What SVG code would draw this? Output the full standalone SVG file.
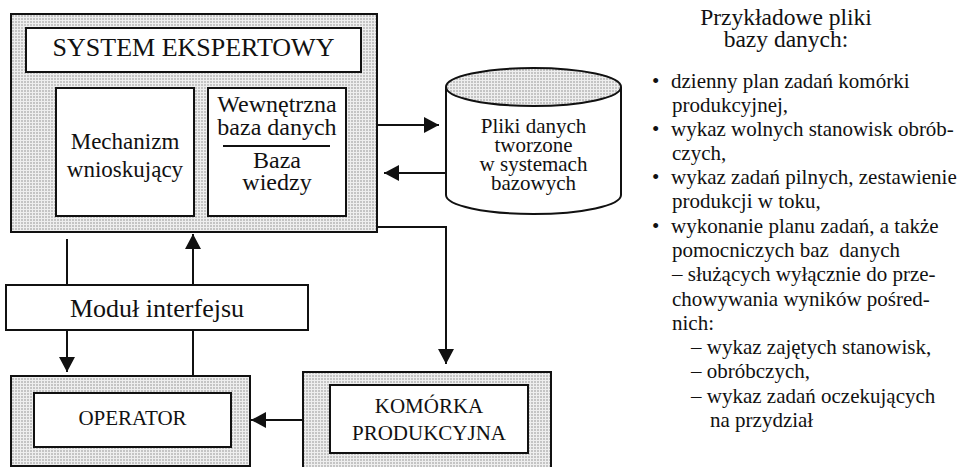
<svg xmlns="http://www.w3.org/2000/svg" width="963" height="467" viewBox="0 0 963 467">
  <style>
    text { font-family: "Liberation Serif", "Times New Roman", serif; fill: #111; }
    .box { fill: #fff; stroke: #111; stroke-width: 2; }
    .shade { fill: url(#stipple); stroke: #111; stroke-width: 2; }
    .wire { fill: none; stroke: #111; stroke-width: 2; }
    .c { text-anchor: middle; }
    .list { font-size: 21px; }
  </style>
  <defs>
    <pattern id="stipple" width="3" height="3" patternUnits="userSpaceOnUse">
      <rect width="3" height="3" fill="#eeeeee"/>
      <rect x="0" y="0" width="2" height="2" fill="#c4c4c4"/>
    </pattern>
    <marker id="head" viewBox="0 0 15 16" refX="15" refY="8" markerWidth="15" markerHeight="16" markerUnits="userSpaceOnUse" orient="auto">
      <path d="M0,0 L15,8 L0,16 Z" fill="#111"/>
    </marker>
  </defs>

  <!-- expert system block -->
  <g id="system-ekspertowy">
    <rect class="shade" x="11" y="14" width="366" height="218"/>
    <rect class="box" x="26" y="28" width="335" height="44"/>
    <text class="c" x="193.5" y="56" font-size="26">SYSTEM EKSPERTOWY</text>
  </g>

  <g id="mechanizm">
    <rect class="box" x="56" y="88" width="138" height="128"/>
    <text class="c" x="125" y="149" font-size="23">Mechanizm</text>
    <text class="c" x="125" y="177" font-size="23">wnioskujący</text>
  </g>

  <g id="baza-wiedzy">
    <rect class="box" x="208" y="88" width="138" height="128"/>
    <text class="c" x="277" y="112" font-size="24">Wewnętrzna</text>
    <text class="c" x="277" y="135" font-size="24">baza danych</text>
    <line x1="223" y1="146" x2="330" y2="146" stroke="#111" stroke-width="2"/>
    <text class="c" x="277" y="168" font-size="24">Baza</text>
    <text class="c" x="277" y="190" font-size="24">wiedzy</text>
  </g>

  <!-- database cylinder -->
  <g id="pliki-danych">
    <path class="box" d="M446,87 L446,195 A87.5,19 0 0 0 621,195 L621,87"/>
    <ellipse class="shade" cx="533.5" cy="87" rx="87.5" ry="19"/>
    <text class="c" x="533.5" y="133" font-size="21">Pliki danych</text>
    <text class="c" x="533.5" y="152" font-size="21">tworzone</text>
    <text class="c" x="533.5" y="171" font-size="21">w systemach</text>
    <text class="c" x="533.5" y="190" font-size="21">bazowych</text>
  </g>

  <g id="modul-interfejsu">
    <rect class="box" x="6" y="285" width="302" height="45"/>
    <text class="c" x="157" y="317" font-size="26">Moduł interfejsu</text>
  </g>

  <g id="operator">
    <rect class="shade" x="11" y="376" width="239" height="90"/>
    <rect class="box" x="34" y="393" width="197" height="54"/>
    <text class="c" x="132.5" y="425" font-size="21">OPERATOR</text>
  </g>

  <g id="komorka">
    <rect class="shade" x="303" y="372" width="248" height="100"/>
    <rect class="box" x="330" y="385" width="198" height="68"/>
    <text class="c" x="429" y="413" font-size="21">KOMÓRKA</text>
    <text class="c" x="429" y="440" font-size="21">PRODUKCYJNA</text>
  </g>

  <!-- connectors -->
  <g id="connectors">
    <line class="wire" x1="377" y1="125" x2="439" y2="125" marker-end="url(#head)"/>
    <line class="wire" x1="446" y1="173" x2="384" y2="173" marker-end="url(#head)"/>
    <line class="wire" x1="67" y1="239" x2="67" y2="285"/>
    <line class="wire" x1="193" y1="285" x2="193" y2="234" marker-end="url(#head)"/>
    <line class="wire" x1="67" y1="330" x2="67" y2="372" marker-end="url(#head)"/>
    <line class="wire" x1="193" y1="330" x2="193" y2="376"/>
    <polyline class="wire" points="377,227 446,227 446,364" marker-end="url(#head)"/>
    <line class="wire" x1="303" y1="420" x2="251" y2="420" marker-end="url(#head)"/>
  </g>

  <!-- example database files -->
  <g id="przyklady">
    <text class="c" x="786" y="25" font-size="23.5">Przykładowe pliki</text>
    <text class="c" x="786" y="47" font-size="23.5">bazy danych:</text>
    <g class="list">
      <text x="652" y="88">•</text>
      <text x="671" y="88">dzienny plan zadań komórki</text>
      <text x="672" y="112">produkcyjnej,</text>
      <text x="652" y="136">•</text>
      <text x="671" y="136">wykaz wolnych stanowisk obrób-</text>
      <text x="672" y="160">czych,</text>
      <text x="652" y="184">•</text>
      <text x="671" y="184">wykaz zadań pilnych, zestawienie</text>
      <text x="672" y="208">produkcji w toku,</text>
      <text x="652" y="233">•</text>
      <text x="671" y="233">wykonanie planu zadań, a także</text>
      <text x="672" y="257" xml:space="preserve">pomocniczych baz  danych</text>
      <text x="672" y="281">– służących wyłącznie do prze-</text>
      <text x="672" y="306">chowywania wyników pośred-</text>
      <text x="672" y="330">nich:</text>
      <text x="691" y="354">– wykaz zajętych stanowisk,</text>
      <text x="691" y="378">– obróbczych,</text>
      <text x="691" y="403">– wykaz zadań oczekujących</text>
      <text x="710" y="427">na przydział</text>
    </g>
  </g>
</svg>
